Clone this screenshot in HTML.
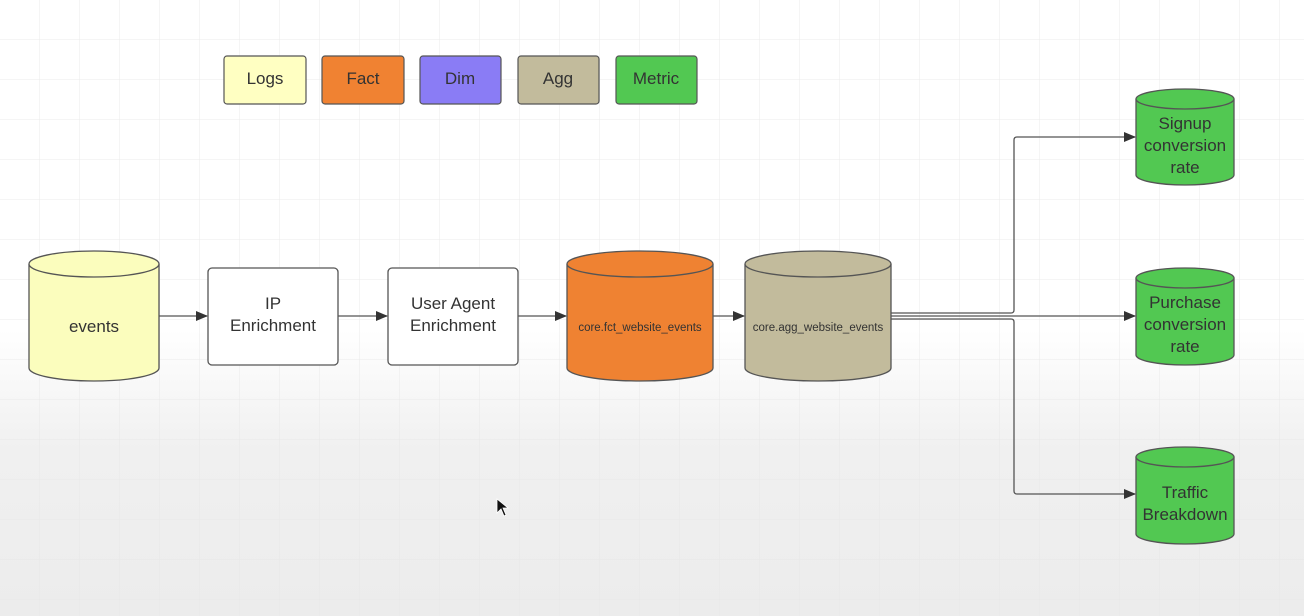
<!DOCTYPE html>
<html><head><style>
html,body{margin:0;padding:0}
body{width:1304px;height:616px;overflow:hidden;font-family:"Liberation Sans",sans-serif;
background:linear-gradient(#fff 0,#fff 330px,#f0f0f0 450px,#ececec 616px);}
</style></head><body>
<svg width="1304" height="616" style="position:absolute;left:0;top:0" font-family="Liberation Sans, sans-serif">
<defs>
<pattern id="g" width="40" height="40" patternUnits="userSpaceOnUse"><path d="M40 0V40H0" fill="none" stroke="#e6e6e6" stroke-width="1"/></pattern>
<marker id="a" markerWidth="12" markerHeight="10" refX="11" refY="5" orient="auto" markerUnits="userSpaceOnUse"><path d="M0,0 L12,5 L0,10z" fill="#333"/></marker>
</defs>
<rect width="1304" height="616" fill="url(#g)" opacity="0.8"/>
<g stroke="#555" stroke-width="1.2" font-size="17" text-anchor="middle">
<rect x="224" y="56" width="82" height="48" rx="3" fill="#ffffc2"/><text x="265" y="84" stroke="none" fill="#333">Logs</text>
<rect x="322" y="56" width="82" height="48" rx="3" fill="#f08232"/><text x="363" y="84" stroke="none" fill="#333">Fact</text>
<rect x="420" y="56" width="81" height="48" rx="3" fill="#8a7cf5"/><text x="460" y="84" stroke="none" fill="#333">Dim</text>
<rect x="518" y="56" width="81" height="48" rx="3" fill="#c2bb9c"/><text x="558" y="84" stroke="none" fill="#333">Agg</text>
<rect x="616" y="56" width="81" height="48" rx="3" fill="#52c852"/><text x="656" y="84" stroke="none" fill="#333">Metric</text>
</g>
<g stroke="#555" stroke-width="1.3">
<!-- events -->
<path d="M29,264 V368 A65,13 0 0 0 159,368 V264" fill="#fbfdbd"/><ellipse cx="94" cy="264" rx="65" ry="13" fill="#fbfdbd"/>
<rect x="208" y="268" width="130" height="97" rx="4" fill="#fff"/>
<rect x="388" y="268" width="130" height="97" rx="4" fill="#fff"/>
<path d="M567,264 V368 A73,13 0 0 0 713,368 V264" fill="#ef8232"/><ellipse cx="640" cy="264" rx="73" ry="13" fill="#ef8232"/>
<path d="M745,264 V368 A73,13 0 0 0 891,368 V264" fill="#c2bb9c"/><ellipse cx="818" cy="264" rx="73" ry="13" fill="#c2bb9c"/>
<path d="M1136,99 V175 A49,10 0 0 0 1234,175 V99" fill="#52c852"/><ellipse cx="1185" cy="99" rx="49" ry="10" fill="#52c852"/>
<path d="M1136,278 V355 A49,10 0 0 0 1234,355 V278" fill="#52c852"/><ellipse cx="1185" cy="278" rx="49" ry="10" fill="#52c852"/>
<path d="M1136,457 V534 A49,10 0 0 0 1234,534 V457" fill="#52c852"/><ellipse cx="1185" cy="457" rx="49" ry="10" fill="#52c852"/>
</g>
<g stroke="#555" stroke-width="1.3" fill="none" marker-end="url(#a)">
<path d="M159,316 H207"/><path d="M338,316 H387"/><path d="M518,316 H566"/><path d="M713,316 H744"/>
<path d="M891,313 H1011 Q1014,313 1014,310 V140 Q1014,137 1017,137 H1135"/>
<path d="M891,316 H1135"/>
<path d="M891,319 H1011 Q1014,319 1014,322 V491 Q1014,494 1017,494 H1135"/>
</g>
<g fill="#333" text-anchor="middle" font-size="17">
<text x="94" y="332">events</text>
<text x="273" y="309">IP</text><text x="273" y="331">Enrichment</text>
<text x="453" y="309">User Agent</text><text x="453" y="331">Enrichment</text>
<text x="640" y="331" font-size="11.5">core.fct_website_events</text>
<text x="818" y="331" font-size="11.5">core.agg_website_events</text>
<text x="1185" y="129">Signup</text><text x="1185" y="151">conversion</text><text x="1185" y="173">rate</text>
<text x="1185" y="308">Purchase</text><text x="1185" y="330">conversion</text><text x="1185" y="352">rate</text>
<text x="1185" y="498">Traffic</text><text x="1185" y="520">Breakdown</text>
</g>
<path d="M497,499 V513 L501,509 L504,516 L506,515 L503,508 L508,508 Z" fill="#111" stroke="#fff" stroke-width="0.8"/>
</svg>
</body></html>
